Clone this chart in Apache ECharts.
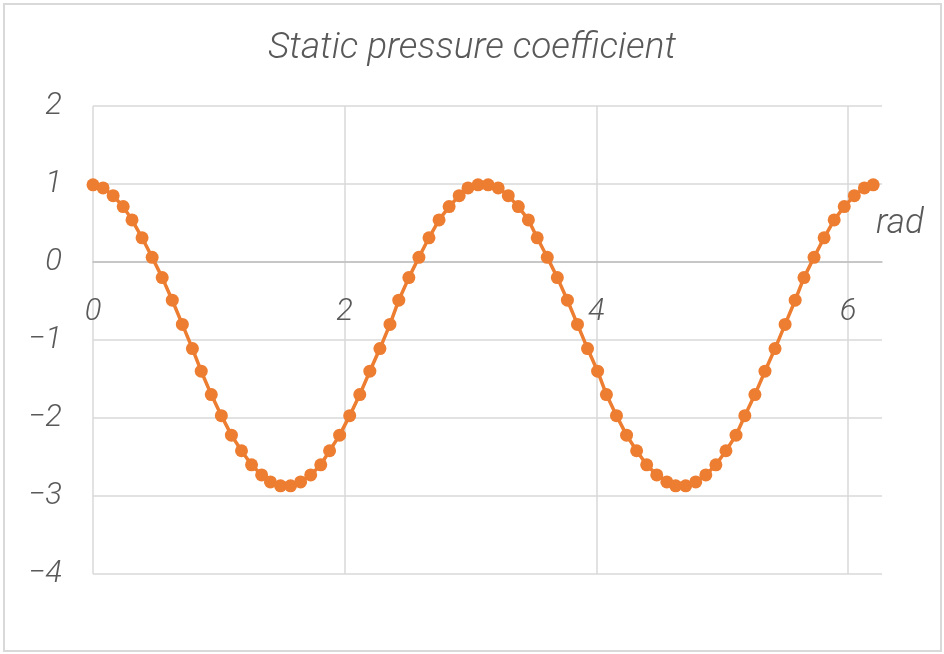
<!DOCTYPE html>
<html>
<head>
<meta charset="utf-8">
<script src="https://cdn.jsdelivr.net/npm/echarts@6/dist/echarts.min.js"></script>
<style>
  html, body { margin: 0; padding: 0; background: #fff; }
  #wrap { position: relative; width: 944px; height: 654px; }
  #chart { width: 944px; height: 654px; }
  #frame { position: absolute; left: 3px; top: 3px; width: 935px; height: 645px; border: 2px solid #d9d9d9; pointer-events: none; }
</style>
</head>
<body>
<div id="wrap"><div id="chart"></div><div id="frame"></div></div>
<script>
// angle around the cylinder, rad
const angles = [
  0.00, 0.08, 0.16, 0.24, 0.31, 0.39, 0.47, 0.55, 0.63, 0.71,
  0.79, 0.86, 0.94, 1.02, 1.10, 1.18, 1.26, 1.34, 1.41, 1.49,
  1.57, 1.65, 1.73, 1.81, 1.88, 1.96, 2.04, 2.12, 2.20, 2.28,
  2.36, 2.43, 2.51, 2.59, 2.67, 2.75, 2.83, 2.91, 2.98, 3.06,
  3.14, 3.22, 3.30, 3.38, 3.46, 3.53, 3.61, 3.69, 3.77, 3.85,
  3.93, 4.01, 4.08, 4.16, 4.24, 4.32, 4.40, 4.48, 4.56, 4.63,
  4.71, 4.79, 4.87, 4.95, 5.03, 5.11, 5.18, 5.26, 5.34, 5.42,
  5.50, 5.58, 5.65, 5.73, 5.81, 5.89, 5.97, 6.05, 6.13, 6.20
];

// static pressure coefficient
const cp = [
  0.99, 0.95, 0.85, 0.71, 0.54, 0.31, 0.06, -0.20, -0.49, -0.80,
  -1.11, -1.40, -1.70, -1.97, -2.22, -2.42, -2.60, -2.73, -2.82, -2.87,
  -2.87, -2.82, -2.73, -2.60, -2.42, -2.22, -1.97, -1.70, -1.40, -1.11,
  -0.80, -0.49, -0.20, 0.06, 0.31, 0.54, 0.71, 0.85, 0.95, 0.99,
  0.99, 0.95, 0.85, 0.71, 0.54, 0.31, 0.06, -0.20, -0.49, -0.80,
  -1.11, -1.40, -1.70, -1.97, -2.22, -2.42, -2.60, -2.73, -2.82, -2.87,
  -2.87, -2.82, -2.73, -2.60, -2.42, -2.22, -1.97, -1.70, -1.40, -1.11,
  -0.80, -0.49, -0.20, 0.06, 0.31, 0.54, 0.71, 0.85, 0.95, 0.99
];

const xTicks = [0, 2, 4, 6];
const yTicks = [-4, -3, -2, -1, 0, 1, 2];
const xMax = 6.27;

const font = "Roboto";
const textColor = "#595959";
const gridColor = "#d9d9d9";
const orange = "#ED7D31";

const labelStyle = {
  fontFamily: font,
  fontSize: 31,
  fontWeight: 300,
  fontStyle: "italic",
  color: textColor,
};

const grid = { left: 93, right: 62, top: 106, bottom: 80 };
const plotHeight = 654 - grid.top - grid.bottom;
// x axis sits on the cp = 0 line, not on the bottom of the plot
const zeroOffset = -plotHeight * (0 - yTicks[0]) / (yTicks[yTicks.length - 1] - yTicks[0]);

const chart = echarts.init(document.getElementById("chart"));

chart.setOption({
  animation: false,
  title: {
    text: "Static pressure coefficient",
    left: "center",
    top: 25,
    textStyle: { ...labelStyle, fontSize: 37 },
  },
  grid: grid,
  graphic: [
    {
      type: "text",
      left: 876,
      top: 207,
      style: { text: "rad", font: "italic 300 35px Roboto", fill: textColor },
    },
  ],
  xAxis: {
    type: "value",
    min: xTicks[0],
    max: xMax,
    interval: xTicks[1] - xTicks[0],
    position: "bottom",
    offset: zeroOffset,
    axisLine: { onZero: false, lineStyle: { color: "#bfbfbf", width: 1.5 } },
    axisTick: { show: false },
    axisLabel: { ...labelStyle, margin: 35, showMaxLabel: false },
    splitLine: { show: true, showMaxLine: false, lineStyle: { color: gridColor, width: 1.5 } },
  },
  yAxis: {
    type: "value",
    min: yTicks[0],
    max: yTicks[yTicks.length - 1],
    interval: 1,
    axisLine: { show: false },
    axisTick: { show: false },
    axisLabel: {
      ...labelStyle,
      margin: 31,
      formatter: (v) => String(v).replace("-", "\u2212"),
    },
    splitLine: { lineStyle: { color: gridColor, width: 1.5 } },
  },
  series: [
    {
      name: "Cp",
      type: "line",
      data: angles.map((a, i) => [a, cp[i]]),
      symbol: "circle",
      symbolSize: 13,
      itemStyle: { color: orange },
      lineStyle: { color: orange, width: 3.5 },
      z: 3,
    },
  ],
});
</script>
</body>
</html>
